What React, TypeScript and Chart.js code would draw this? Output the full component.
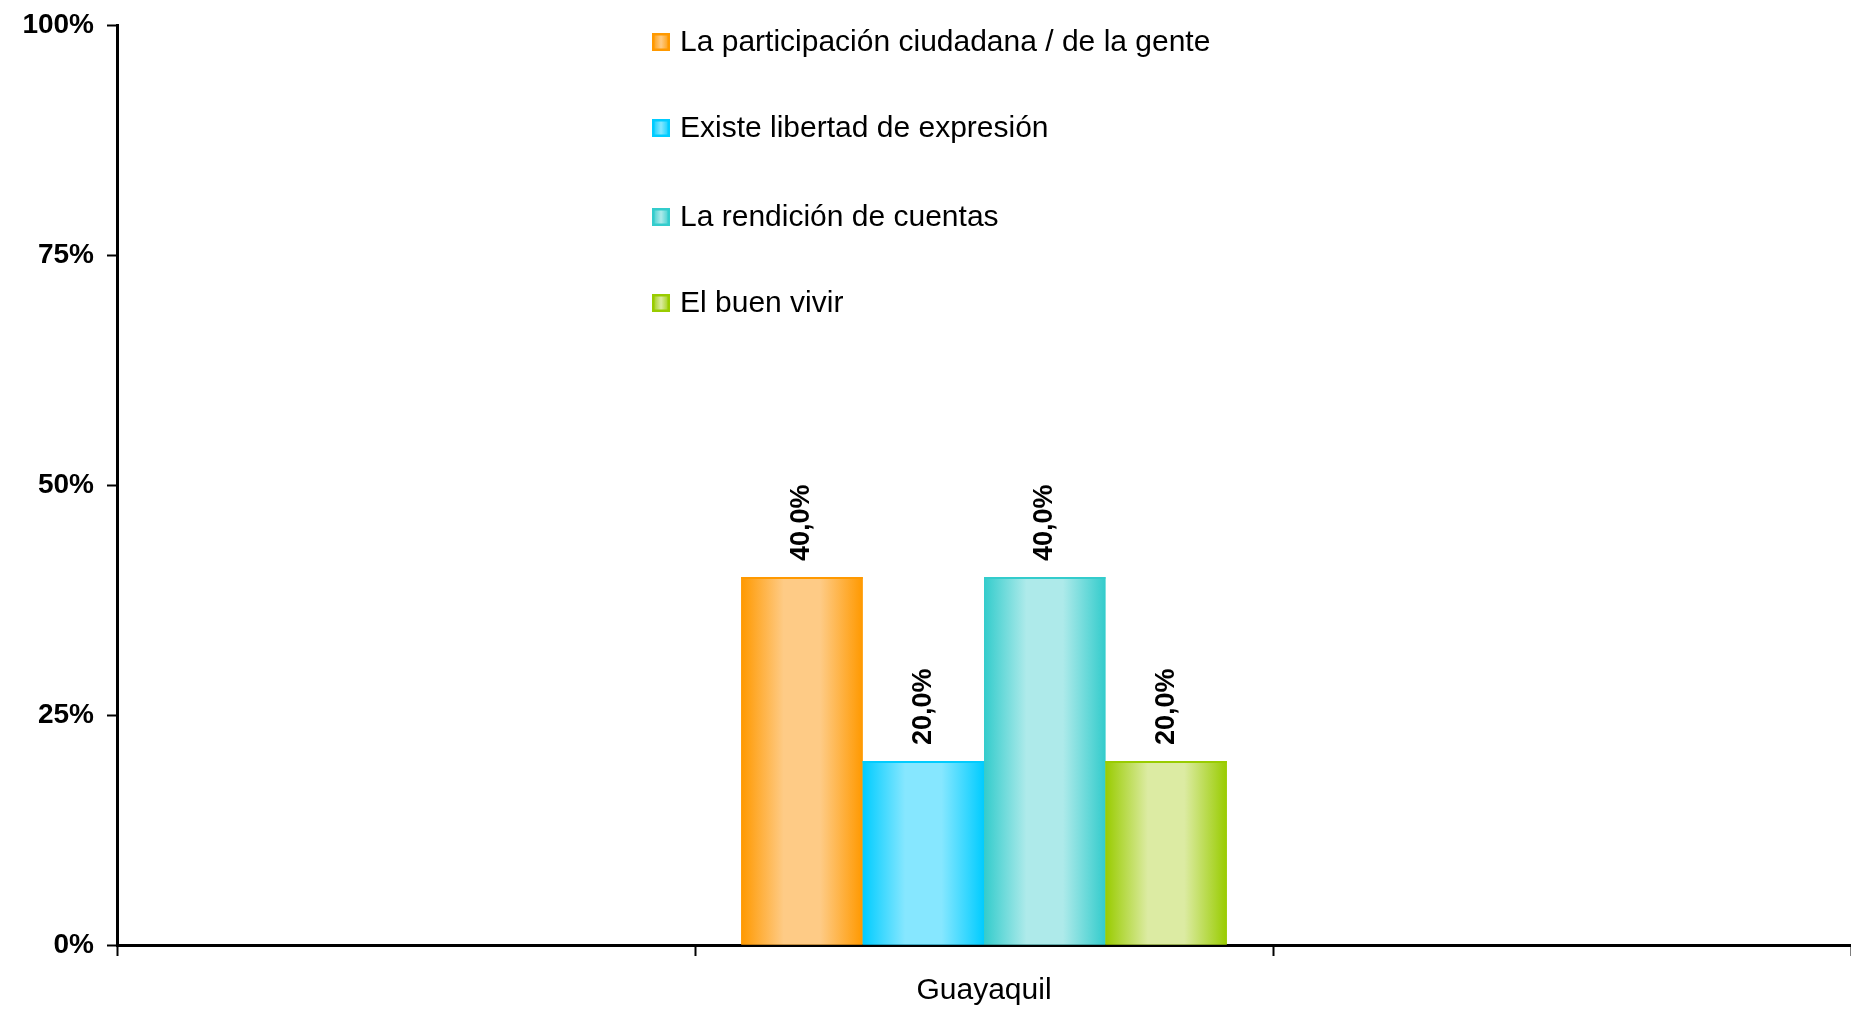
import React, { useEffect, useRef } from "react";
import { Chart, registerables } from "chart.js";

Chart.register(...registerables);

const categories = ["", "Guayaquil", ""];
const seriesLabels = [
  "La participación ciudadana / de la gente",
  "Existe libertad de expresión",
  "La rendición de cuentas",
  "El buen vivir",
];
const participacion = [null, 40, null];
const libertad = [null, 20, null];
const rendicion = [null, 40, null];
const buenVivir = [null, 20, null];
const yTicks = [0, 25, 50, 75, 100];

const edgeColors = ["#FF9900", "#00CCFF", "#33CCCC", "#99CC00"];
const midColors = ["#FECB86", "#86E7FF", "#AEEAEA", "#DCEBA3"];

const FONT = "'Liberation Sans', Arial, sans-serif";

const gradientPlugin = {
  id: "barGradient",
  afterDatasetsDraw(chart: any) {
    const ctx = chart.ctx;
    ctx.save();
    chart.data.datasets.forEach((ds: any, i: number) => {
      const meta = chart.getDatasetMeta(i);
      meta.data.forEach((el: any, j: number) => {
        if (ds.data[j] == null) return;
        const x0 = el.x - el.width / 2;
        const x1 = el.x + el.width / 2;
        const top = Math.min(el.y, el.base);
        const h = Math.abs(el.base - el.y);
        const g = ctx.createLinearGradient(x0, 0, x1, 0);
        g.addColorStop(0, edgeColors[i]);
        g.addColorStop(0.35, midColors[i]);
        g.addColorStop(0.65, midColors[i]);
        g.addColorStop(1, edgeColors[i]);
        ctx.fillStyle = g;
        ctx.fillRect(x0, top, x1 - x0, h);
        ctx.fillStyle = edgeColors[i];
        ctx.fillRect(x0, top, x1 - x0, 2);
      });
    });
    ctx.restore();
  },
};

const labelsPlugin = {
  id: "valueLabels",
  afterDatasetsDraw(chart: any) {
    const ctx = chart.ctx;
    ctx.save();
    chart.data.datasets.forEach((ds: any, i: number) => {
      const meta = chart.getDatasetMeta(i);
      meta.data.forEach((el: any, j: number) => {
        const v = ds.data[j];
        if (v == null) return;
        ctx.save();
        ctx.translate(el.x, el.y - 16);
        ctx.rotate(-Math.PI / 2);
        ctx.font = `bold 27px ${FONT}`;
        ctx.fillStyle = "#000";
        ctx.textAlign = "left";
        ctx.textBaseline = "middle";
        ctx.fillText(v.toFixed(1).replace(".", ",") + "%", 0, 0);
        ctx.restore();
      });
    });
    ctx.restore();
  },
};

const legendPlugin = {
  id: "innerLegend",
  afterDraw(chart: any) {
    const ctx = chart.ctx;
    ctx.save();
    const x = 652;
    const ys = [42, 128, 217, 303];
    chart.data.datasets.forEach((ds: any, i: number) => {
      const y = ys[i];
      const s = 18;
      const g = ctx.createLinearGradient(x, 0, x + s, 0);
      g.addColorStop(0, edgeColors[i]);
      g.addColorStop(0.5, midColors[i]);
      g.addColorStop(1, edgeColors[i]);
      ctx.fillStyle = g;
      ctx.fillRect(x, y - s / 2, s, s);
      ctx.strokeStyle = edgeColors[i];
      ctx.lineWidth = 2.5;
      ctx.strokeRect(x + 1.25, y - s / 2 + 1.25, s - 2.5, s - 2.5);
      ctx.font = `30px ${FONT}`;
      ctx.fillStyle = "#000";
      ctx.textAlign = "left";
      ctx.textBaseline = "middle";
      ctx.fillText(ds.label, x + 28, y + 1);
    });
    ctx.restore();
  },
};

export default function App() {
  const ref = useRef<HTMLCanvasElement | null>(null);
  useEffect(() => {
    if (!ref.current) return;
    const seriesData = [participacion, libertad, rendicion, buenVivir];
    const chart = new Chart(ref.current, {
      type: "bar",
      data: {
        labels: categories,
        datasets: seriesLabels.map((label, i) => ({
          label,
          data: seriesData[i] as any,
          backgroundColor: edgeColors[i],
          borderColor: edgeColors[i],
          borderWidth: 0,
          barPercentage: 1,
          categoryPercentage: 0.84,
          skipNull: false,
        })),
      },
      options: {
        responsive: false,
        animation: false,
        events: [],
        layout: { padding: { top: 25, right: 0, left: 0, bottom: 0 } },
        plugins: {
          legend: { display: false },
          tooltip: { enabled: false },
          title: { display: false },
        },
        scales: {
          x: {
            offset: true,
            grid: {
              offset: true,
              drawOnChartArea: false,
              drawTicks: true,
              tickLength: 11,
              tickWidth: 2,
              tickColor: "#000",
            },
            border: { display: true, color: "#000", width: 3 },
            ticks: {
              color: "#000",
              font: { family: FONT, size: 30 },
              padding: 17,
              maxRotation: 0,
            },
            afterFit: (axis: any) => {
              axis.height = 64;
              axis.paddingLeft = 0;
              axis.paddingRight = 0;
            },
          },
          y: {
            min: 0,
            max: 100,
            afterBuildTicks: (axis: any) => {
              axis.ticks = yTicks.map((v) => ({ value: v }));
            },
            grid: {
              drawOnChartArea: false,
              drawTicks: true,
              tickLength: 10,
              tickWidth: 2,
              tickColor: "#000",
            },
            border: { display: true, color: "#000", width: 3 },
            ticks: {
              color: "#000",
              font: { family: FONT, size: 28, weight: "bold" },
              padding: 13,
              callback: (v: any) => v + "%",
            },
            afterFit: (axis: any) => {
              axis.width = 117;
              axis.paddingTop = 0;
              axis.paddingBottom = 0;
            },
          },
        },
      },
      plugins: [gradientPlugin, labelsPlugin, legendPlugin],
    });
    return () => chart.destroy();
  }, []);
  return (
    <div style={{ position: "absolute", left: 0, top: 0, width: 1851, height: 1009, background: "#fff" }}>
      <canvas ref={ref} width={1851} height={1009} style={{ display: "block" }} />
    </div>
  );
}
